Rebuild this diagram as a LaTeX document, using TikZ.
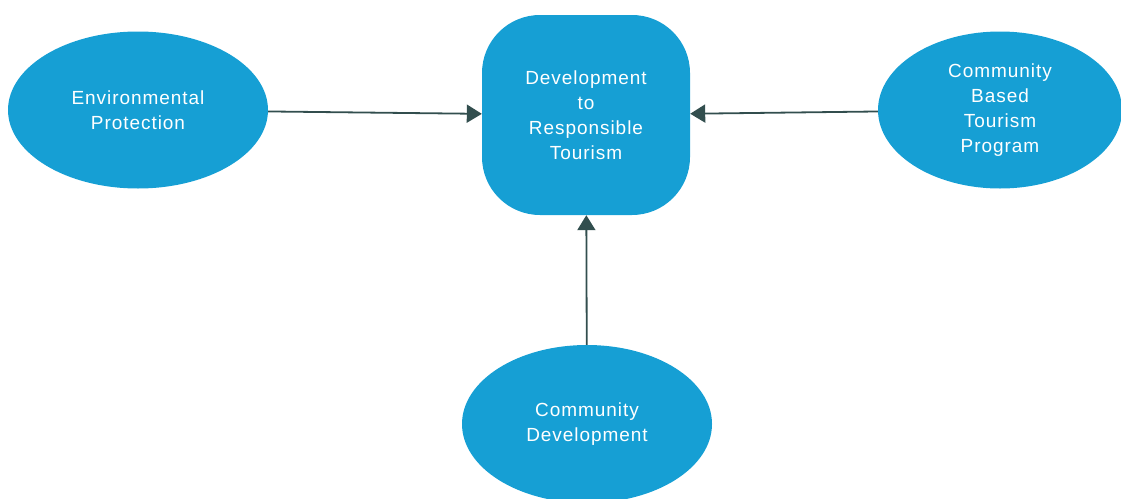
\documentclass[tikz,border=0pt]{standalone}
\usepackage{fontspec}
\setmainfont{Liberation Sans}[LetterSpace=5]
\usetikzlibrary{shapes.geometric,arrows.meta,positioning}

\begin{document}
\begin{tikzpicture}[x=1pt, y=-1pt]
		% Colores
		\definecolor{nodeblue}{RGB}{22, 159, 212} % Azul de los nodos
		\definecolor{arrowdark}{RGB}{50, 78, 78}  % Gris oscuro de las flechas
		
		% Marco de la imagen
		\useasboundingbox (0, 0) rectangle (1121, 498);
		
		% Estilos
		\tikzset{
			base/.style={fill=nodeblue, text=white, align=center, inner sep=0pt,
				font=\fontsize{19}{25}\selectfont},
			oval/.style={base, ellipse, minimum width=260, minimum height=157},
			goalbox/.style={base, rectangle, rounded corners=58, minimum width=208, minimum height=200},
			link/.style={draw=arrowdark, line width=1.8pt, -{Triangle[width=18pt, length=15pt]}}
		}
		
		% --- Nodos ---
		\node[goalbox] (resp) at (586, 115) {Development\\to\\Responsible\\Tourism};
		\node[oval] (env) at (138, 110) {Environmental\\Protection};
		\node[oval, minimum width=244] (cbt) at (1000, 110) {Community\\Based\\Tourism\\Program};
		\node[oval, minimum width=250, minimum height=158] (comm) at (587, 424) {Community\\Development};
		
		% --- Flechas ---
		\draw[link] (env) -- (resp);
		\draw[link] (cbt) -- (resp);
		\draw[link] (comm) -- (resp);
		
	\end{tikzpicture}
\end{document}
